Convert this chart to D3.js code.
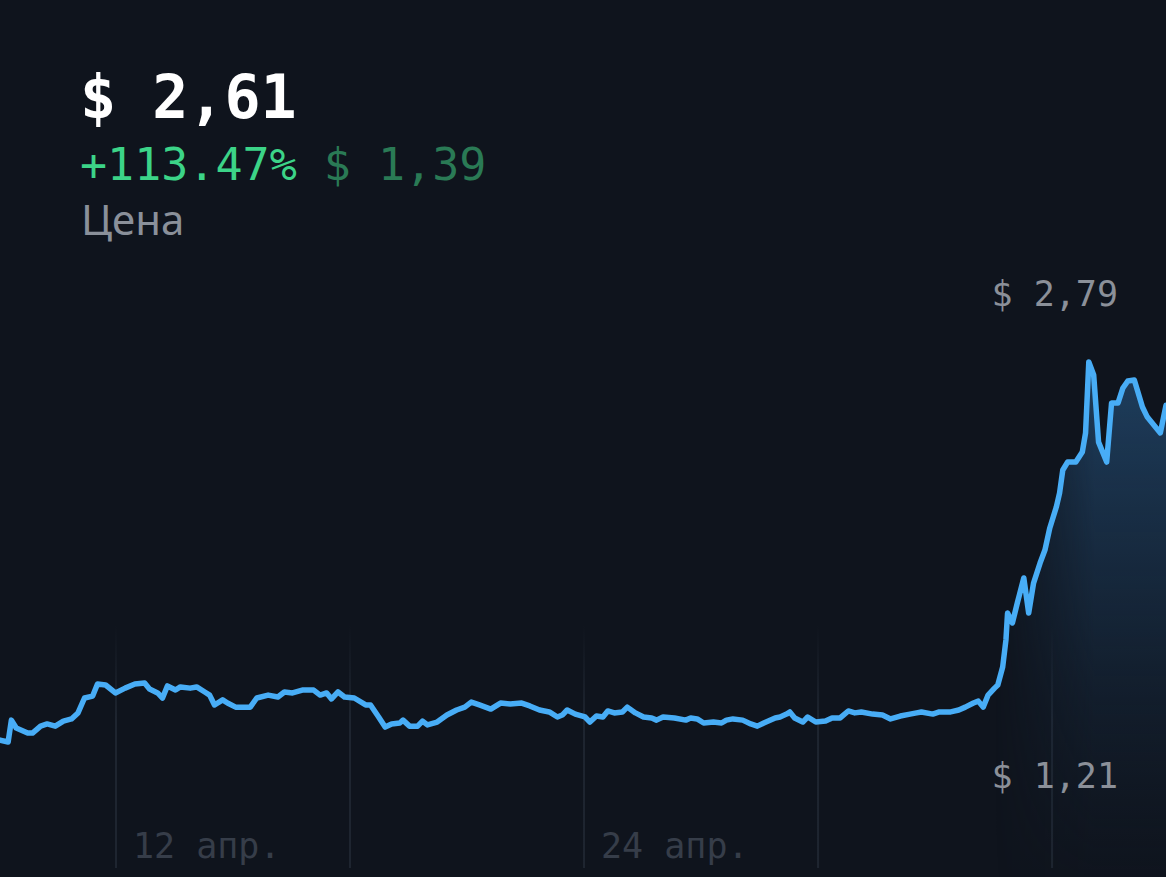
<!DOCTYPE html>
<html>
<head>
<meta charset="utf-8">
<script src="https://cdn.jsdelivr.net/npm/d3@7"></script>
<style>
  html, body { margin: 0; padding: 0; background: #0f141d; overflow: hidden; }
  #chart { width: 1166px; height: 877px; }
</style>
</head>
<body>
<div id="chart"></div>
<script>
// hours since 9 Apr 00:00
const hours = [0, 5, 7, 10, 17, 20, 25, 29, 34, 39, 44, 48, 52, 57, 60, 65, 71, 77, 83, 89,
  92, 97, 100, 103, 108, 111, 117, 121, 126, 129, 132, 137, 140, 145, 154, 158, 165, 171, 175, 180,
  186, 193, 197, 201, 204, 208, 212, 218, 225, 228, 233, 237, 241, 246, 248, 252, 257, 260, 263, 269,
  275, 281, 286, 290, 295, 302, 308, 314, 321, 326, 332, 338, 343, 346, 349, 354, 360, 363, 367, 371,
  374, 378, 383, 386, 391, 396, 401, 404, 408, 415, 422, 425, 429, 433, 439, 444, 447, 451, 457, 462,
  466, 470, 477, 480, 484, 486, 489, 494, 497, 502, 508, 512, 517, 522, 526, 530, 537, 543, 548, 554,
  560, 564, 567, 574, 578, 585, 590, 594, 599, 602, 605, 608, 612, 614, 617, 619, 620, 623, 626, 630,
  633, 636, 640, 643, 646, 650, 652, 654, 657, 662, 666, 668, 670, 673, 676, 681, 684, 688, 691, 694,
  698, 703, 706, 714, 717.5];

const prices = [1.218, 1.210, 1.301, 1.268, 1.247, 1.247, 1.276, 1.285, 1.276, 1.297, 1.306, 1.331, 1.393, 1.401, 1.451, 1.447, 1.414, 1.434, 1.451, 1.455,
  1.430, 1.414, 1.393, 1.443, 1.426, 1.439, 1.434, 1.439, 1.418, 1.405, 1.364, 1.385, 1.372, 1.355, 1.355, 1.393, 1.405, 1.397, 1.418, 1.414,
  1.426, 1.426, 1.405, 1.414, 1.389, 1.418, 1.397, 1.393, 1.364, 1.364, 1.314, 1.272, 1.285, 1.289, 1.301, 1.276, 1.276, 1.297, 1.281, 1.293,
  1.322, 1.343, 1.355, 1.376, 1.364, 1.347, 1.372, 1.368, 1.372, 1.360, 1.343, 1.335, 1.314, 1.322, 1.343, 1.326, 1.314, 1.293, 1.318, 1.314,
  1.339, 1.331, 1.335, 1.355, 1.331, 1.314, 1.310, 1.301, 1.314, 1.310, 1.301, 1.310, 1.306, 1.289, 1.293, 1.289, 1.301, 1.306, 1.301, 1.285,
  1.276, 1.289, 1.310, 1.314, 1.326, 1.335, 1.310, 1.293, 1.314, 1.293, 1.297, 1.310, 1.310, 1.339, 1.331, 1.335, 1.326, 1.322, 1.306, 1.318,
  1.326, 1.331, 1.335, 1.326, 1.335, 1.335, 1.343, 1.355, 1.372, 1.380, 1.355, 1.405, 1.434, 1.447, 1.522, 1.634, 1.746, 1.705, 1.788, 1.892,
  1.746, 1.871, 1.954, 2.008, 2.100, 2.187, 2.245, 2.341, 2.374, 2.374, 2.416, 2.495, 2.790, 2.736, 2.457, 2.374, 2.620, 2.620, 2.682, 2.711,
  2.715, 2.603, 2.561, 2.495, 2.610];

const gridDays = [[3, 12], [3, 18], [3, 24], [3, 30], [4, 6]];
const labelDays = [[3, 12], [3, 24]];
const monthNames = ['янв.', 'февр.', 'мар.', 'апр.', 'мая', 'июн.', 'июл.', 'авг.', 'сент.', 'окт.', 'нояб.', 'дек.'];

const priceNow = '$ 2,61';
const changePct = '+113.47%';
const changeAbs = '$ 1,39';
const seriesName = 'Цена';

(function () {

    const width = 1166;
    const height = 877;
    const mono = "'DejaVu Sans Mono', 'Liberation Mono', monospace";

    const start = new Date(2024, 3, 9, 0, 0);
    const toDate = h => new Date(start.getTime() + h * 3600 * 1000);

    const data = hours.map((h, i) => ({ date: toDate(h), value: prices[i] }));

    const svg = d3.select('#chart')
        .append('svg')
        .attr('width', width)
        .attr('height', height);

    const x = d3.scaleTime()
        .domain([start, toDate(717.5)])
        .range([0, width]);

    const yMin = d3.min(prices);
    const yMax = d3.max(prices);

    const y = d3.scaleLinear()
        .domain([yMin, yMax])
        .range([742, 362]);

    const defs = svg.append('defs');

    const areaGrad = defs.append('linearGradient')
        .attr('id', 'areaGrad')
        .attr('gradientUnits', 'userSpaceOnUse')
        .attr('x1', 0).attr('x2', 0)
        .attr('y1', y(yMax)).attr('y2', height);
    areaGrad.append('stop').attr('offset', 0).attr('stop-color', '#234a70').attr('stop-opacity', 0.8);
    areaGrad.append('stop').attr('offset', 0.5).attr('stop-color', '#1b3550').attr('stop-opacity', 0.5);
    areaGrad.append('stop').attr('offset', 1).attr('stop-color', '#142233').attr('stop-opacity', 0.05);

    const fadeGrad = defs.append('linearGradient')
        .attr('id', 'fadeGrad')
        .attr('gradientUnits', 'userSpaceOnUse')
        .attr('x1', 995).attr('x2', 1095)
        .attr('y1', 0).attr('y2', 0);
    fadeGrad.append('stop').attr('offset', 0).attr('stop-color', '#fff').attr('stop-opacity', 0);
    fadeGrad.append('stop').attr('offset', 1).attr('stop-color', '#fff').attr('stop-opacity', 1);

    defs.append('mask')
        .attr('id', 'fadeMask')
        .attr('maskUnits', 'userSpaceOnUse')
        .attr('x', 0).attr('y', 0).attr('width', width).attr('height', height)
        .append('rect')
        .attr('width', width)
        .attr('height', height)
        .attr('fill', 'url(#fadeGrad)');

    const gridGrad = defs.append('linearGradient')
        .attr('id', 'gridGrad')
        .attr('gradientUnits', 'userSpaceOnUse')
        .attr('x1', 0).attr('x2', 0)
        .attr('y1', 625).attr('y2', 720);
    gridGrad.append('stop').attr('offset', 0).attr('stop-color', '#1e2530').attr('stop-opacity', 0);
    gridGrad.append('stop').attr('offset', 1).attr('stop-color', '#1e2530').attr('stop-opacity', 1);

    // vertical grid
    svg.append('g')
        .selectAll('line')
        .data(gridDays.map(d => new Date(2024, d[0], d[1])))
        .join('line')
        .attr('x1', d => x(d) - 1)
        .attr('x2', d => x(d) - 1)
        .attr('y1', 625)
        .attr('y2', 868)
        .attr('stroke', 'url(#gridGrad)')
        .attr('stroke-width', 2);

    // area under line
    const area = d3.area()
        .x(d => x(d.date))
        .y0(height)
        .y1(d => y(d.value));

    svg.append('path')
        .datum(data)
        .attr('d', area)
        .attr('fill', 'url(#areaGrad)')
        .attr('mask', 'url(#fadeMask)');

    const line = d3.line()
        .x(d => x(d.date))
        .y(d => y(d.value));

    svg.append('path')
        .datum(data)
        .attr('d', line)
        .attr('fill', 'none')
        .attr('stroke', '#48adf6')
        .attr('stroke-width', 5.5)
        .attr('stroke-linejoin', 'round')
        .attr('stroke-linecap', 'round');

    // x labels
    svg.append('g')
        .selectAll('text')
        .data(labelDays.map(d => new Date(2024, d[0], d[1])))
        .join('text')
        .attr('x', d => x(d) + 16)
        .attr('y', 858)
        .attr('font-family', mono)
        .attr('font-size', 35)
        .attr('fill', '#363d49')
        .text(d => d.getDate() + ' ' + monthNames[d.getMonth()]);

    // high / low labels
    const fmt = v => '$ ' + v.toFixed(2).replace('.', ',');

    svg.append('text')
        .attr('x', 1118)
        .attr('y', y(yMax) - 56)
        .attr('text-anchor', 'end')
        .attr('font-family', mono)
        .attr('font-size', 35)
        .attr('fill', '#8b9099')
        .text(fmt(yMax));

    svg.append('text')
        .attr('x', 1118)
        .attr('y', y(yMin) + 46)
        .attr('text-anchor', 'end')
        .attr('font-family', mono)
        .attr('font-size', 35)
        .attr('fill', '#8b9099')
        .text(fmt(yMin));

    // header
    svg.append('text')
        .attr('x', 80)
        .attr('y', 118)
        .attr('font-family', mono)
        .attr('font-size', 60)
        .attr('font-weight', 'bold')
        .attr('fill', '#ffffff')
        .text(priceNow);

    const change = svg.append('text')
        .attr('x', 80)
        .attr('y', 180)
        .attr('font-family', mono)
        .attr('font-size', 45);
    change.append('tspan').attr('fill', '#3cd488').text(changePct + ' ');
    change.append('tspan').attr('fill', '#2a7a55').text(changeAbs);

    svg.append('text')
        .attr('x', 81)
        .attr('y', 235)
        .attr('font-family', "'Noto Sans', sans-serif")
        .attr('font-size', 42)
        .attr('fill', '#8a909a')
        .text(seriesName);

})();
</script>
</body>
</html>
